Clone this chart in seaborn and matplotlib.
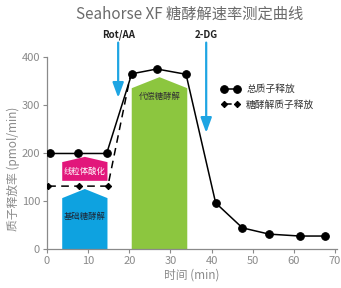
import matplotlib
matplotlib.use("Agg")
import matplotlib.pyplot as plt
import seaborn as sns
import pandas as pd
from matplotlib.patches import Polygon

# data
total_t = [0.7, 7.6, 14.5, 20.6, 26.7, 33.8, 41.0, 47.5, 54.0, 61.5, 67.6]
total_rate = [199, 199, 199, 365, 375, 364, 96, 44, 31, 27, 27]
glyco_t = [0.3, 7.9, 14.8, 20.3]
glyco_rate = [131, 131, 131, 362]

# region blocks: (x start, x end, bottom, shoulder, peak)
blocks = {
    "线粒体酸化": (3.7, 14.7, 142, 181, 192),
    "基础糖酵解": (3.7, 14.7, 0, 106, 125),
    "代偿糖酵解": (20.6, 34.1, 0, 335, 358),
}
block_colors = {"线粒体酸化": "#E2177B", "基础糖酵解": "#0EA2E0", "代偿糖酵解": "#8CC63F"}
block_text_y = {"线粒体酸化": 162, "基础糖酵解": 67, "代偿糖酵解": 318}
block_text_color = {"线粒体酸化": "white", "基础糖酵解": "#1d2a3a", "代偿糖酵解": "#333333"}

# injections: label, time, arrow tip
injections = [("Rot/AA", 17.3, 315), ("2-DG", 38.7, 242)]

df_total = pd.DataFrame({"t": total_t, "rate": total_rate})
df_glyco = pd.DataFrame({"t": glyco_t, "rate": glyco_rate})

sns.set_style("ticks")
plt.rcParams["font.family"] = ["Noto Sans CJK SC", "DejaVu Sans"]

fig = plt.figure(figsize=(3.41, 2.88), dpi=100)
ax = fig.add_axes([47 / 341, 1 - 249 / 288, 290 / 341, 192 / 288])

for name, (x0, x1, b, s, p) in blocks.items():
    xm = (x0 + x1) / 2
    poly = Polygon([(x0, b), (x1, b), (x1, s), (xm, p), (x0, s)],
                   closed=True, facecolor=block_colors[name], edgecolor="none", zorder=1)
    ax.add_patch(poly)
    ax.text(xm, block_text_y[name], name, ha="center", va="center",
            fontsize=6, color=block_text_color[name], zorder=2)

sns.lineplot(data=df_total, x="t", y="rate", ax=ax, color="black", linewidth=1.1,
             marker="o", markersize=5.5, markeredgecolor="black", label="总质子释放", zorder=4)
sns.lineplot(data=df_glyco, x="t", y="rate", ax=ax, color="black", linewidth=1.1,
             marker="D", markersize=3.2, markeredgecolor="black",
             markevery=[0, 1, 2], label="糖酵解质子释放", zorder=3)
ax.lines[-1].set_dashes((5, 3.5))

for lab, t, tip in injections:
    ax.annotate("", xy=(t, tip), xytext=(t, 430), annotation_clip=False,
                arrowprops=dict(arrowstyle="-|>,head_length=0.9,head_width=0.33",
                                color="#1EA5E3", lw=1.6, shrinkA=0, shrinkB=0))
    ax.text(t, 446, lab, ha="center", va="center", fontsize=7, fontweight="bold",
            color="#222222", clip_on=False)

ax.set_xlim(0, 70.5)
ax.set_ylim(0, 400)
ax.set_xticks(range(0, 71, 10))
ax.set_yticks(range(0, 401, 100))
sns.despine(ax=ax)
for sp in ["left", "bottom"]:
    ax.spines[sp].set_color("#8a8a8a")
    ax.spines[sp].set_linewidth(0.9)
ax.tick_params(colors="#8a8a8a", labelsize=8, length=3, width=0.8, pad=2)
ax.set_xlabel("时间 (min)", fontsize=8.5, color="#8a8a8a", labelpad=2)
ax.set_ylabel("质子释放率 (pmol/min)", fontsize=8.5, color="#8a8a8a", labelpad=4)
ax.yaxis.set_label_coords(-0.093, 0.42)

leg = ax.legend(loc="upper left", bbox_to_anchor=(0.636, 0.722), bbox_transform=fig.transFigure,
                frameon=False, fontsize=7, numpoints=2, handlelength=2.0,
                handletextpad=0.6, labelspacing=0.6, borderaxespad=0)
for txt in leg.get_texts():
    txt.set_color("#333333")

fig.text(0.557, 0.951, "Seahorse XF 糖酵解速率测定曲线", ha="center", va="center",
         fontsize=11, color="#6b6b6b")

fig.savefig("out.png", dpi=100)
